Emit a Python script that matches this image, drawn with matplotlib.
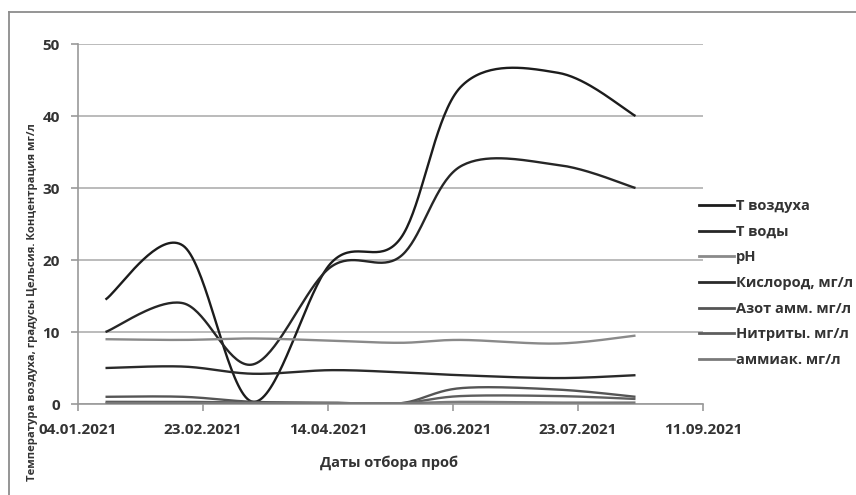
import numpy as np
import pandas as pd
import matplotlib
matplotlib.use("Agg")
import matplotlib.pyplot as plt
import matplotlib.dates as mdates
from matplotlib.lines import Line2D

# sampling dates
dates = ["2021-01-15", "2021-02-15", "2021-03-15", "2021-04-15",
         "2021-05-13", "2021-06-06", "2021-07-15", "2021-08-15"]

t_air = [14.5, 22.0, 0.3, 19.5, 23.0, 44.0, 46.0, 40.0]
t_water = [10.0, 14.0, 5.5, 19.0, 20.5, 33.0, 33.2, 30.0]
ph = [9.0, 8.9, 9.1, 8.8, 8.5, 8.9, 8.4, 9.5]
oxygen = [5.0, 5.2, 4.2, 4.7, 4.4, 4.0, 3.6, 4.0]
nh4_n = [1.0, 1.0, 0.3, 0.2, 0.1, 2.2, 2.0, 1.0]
nitrites = [0.3, 0.3, 0.2, 0.1, 0.1, 1.1, 1.1, 0.7]
ammonia = [0.1, 0.1, 0.1, 0.1, 0.1, 0.3, 0.2, 0.2]

series_names = ["T воздуха", "T воды", "pH", "Кислород, мг/л",
                "Азот амм. мг/л", "Нитриты. мг/л", "аммиак. мг/л"]
series_values = [t_air, t_water, ph, oxygen, nh4_n, nitrites, ammonia]
series_colors = ["#1c1c1c", "#262626", "#8a8a8a", "#2a2a2a",
                 "#555555", "#5e5e5e", "#7a7a7a"]

x_ticks = ["2021-01-04", "2021-02-23", "2021-04-14", "2021-06-03",
           "2021-07-23", "2021-09-11"]
y_ticks = [0, 10, 20, 30, 40, 50]


def smooth(x, y, n=40):
    """Excel-like smoothed line (Catmull-Rom through the points)."""
    x = np.asarray(x, float)
    y = np.asarray(y, float)
    px = np.concatenate([[x[0]], x, [x[-1]]])
    py = np.concatenate([[y[0]], y, [y[-1]]])
    xs, ys = [], []
    t = np.linspace(0, 1, n)
    for i in range(1, len(px) - 2):
        p0 = np.array([px[i], py[i]])
        p1 = np.array([px[i + 1], py[i + 1]])
        c1 = p0 + (p1 - np.array([px[i - 1], py[i - 1]])) / 6
        c2 = p1 - (np.array([px[i + 2], py[i + 2]]) - p0) / 6
        b = ((1 - t) ** 3)[:, None] * p0 + (3 * (1 - t) ** 2 * t)[:, None] * c1 \
            + (3 * (1 - t) * t ** 2)[:, None] * c2 + (t ** 3)[:, None] * p1
        xs.append(b[:, 0])
        ys.append(b[:, 1])
    return np.concatenate(xs), np.concatenate(ys)


plt.rcParams["font.family"] = ["Open Sans", "DejaVu Sans"]

fig = plt.figure(figsize=(8.56, 4.95), dpi=100)
ax = fig.add_axes([78 / 856, 91 / 495, 625 / 856, 360 / 495])

xd = mdates.date2num(pd.to_datetime(dates))
for name, vals, col in zip(series_names, series_values, series_colors):
    sx, sy = smooth(xd, vals)
    ax.plot(sx, sy, color=col, linewidth=1.7, label=name, zorder=3,
            solid_capstyle="butt")

ax.set_xlim(mdates.date2num(pd.Timestamp("2021-01-04")),
            mdates.date2num(pd.Timestamp("2021-09-11")))
ax.set_ylim(0, 50)
xt = mdates.date2num(pd.to_datetime(x_ticks))
ax.set_xticks(xt)
ax.set_xticklabels([pd.Timestamp(d).strftime("%d.%m.%Y") for d in x_ticks])
ax.set_yticks(y_ticks)
ax.set_yticklabels([str(v) for v in y_ticks])

ax.grid(axis="y", color="#b5b5b5", linewidth=1.3)
ax.set_axisbelow(True)
for s in ["top", "right"]:
    ax.spines[s].set_visible(False)
ax.spines["left"].set_color("#999999")
ax.spines["bottom"].set_color("#999999")
ax.spines["left"].set_linewidth(1.2)
ax.spines["bottom"].set_linewidth(1.2)
ax.tick_params(axis="both", color="#999999", length=5, width=1.2,
               labelsize=11, labelcolor="#333333")
ax.tick_params(axis="x", pad=9)
ax.tick_params(axis="y", pad=8)
for lbl in ax.get_xticklabels() + ax.get_yticklabels():
    lbl.set_fontweight("bold")

fig.text(33 / 856, 1 - 302 / 495,
         "Температура воздуха, градусы Цельсия. Концентрация мг/л",
         rotation=90, ha="center", va="center", fontsize=8.1,
         fontweight="bold", color="#333333")
fig.text(389 / 856, 1 - 463 / 495, "Даты отбора проб", ha="center",
         va="center", fontsize=10.5, fontweight="bold", color="#333333")

handles = [Line2D([0], [0], color=c, linewidth=2) for c in series_colors]
leg = fig.legend(handles, series_names, loc="upper left",
                 bbox_to_anchor=(686 / 856, 1 - 186 / 495), frameon=False,
                 handlelength=2.4, handletextpad=0.1, labelspacing=0.8,
                 prop={"size": 10.5, "weight": "bold"})
for txt in leg.get_texts():
    txt.set_color("#333333")

# chart-area border (cropped at right and bottom)
fig.add_artist(Line2D([9 / 856, 1], [1 - 12 / 495, 1 - 12 / 495],
                      transform=fig.transFigure, color="#8c8c8c", linewidth=1.3))
fig.add_artist(Line2D([9 / 856, 9 / 856], [0, 1 - 12 / 495],
                      transform=fig.transFigure, color="#8c8c8c", linewidth=1.3))

fig.savefig("out.png", dpi=100)
